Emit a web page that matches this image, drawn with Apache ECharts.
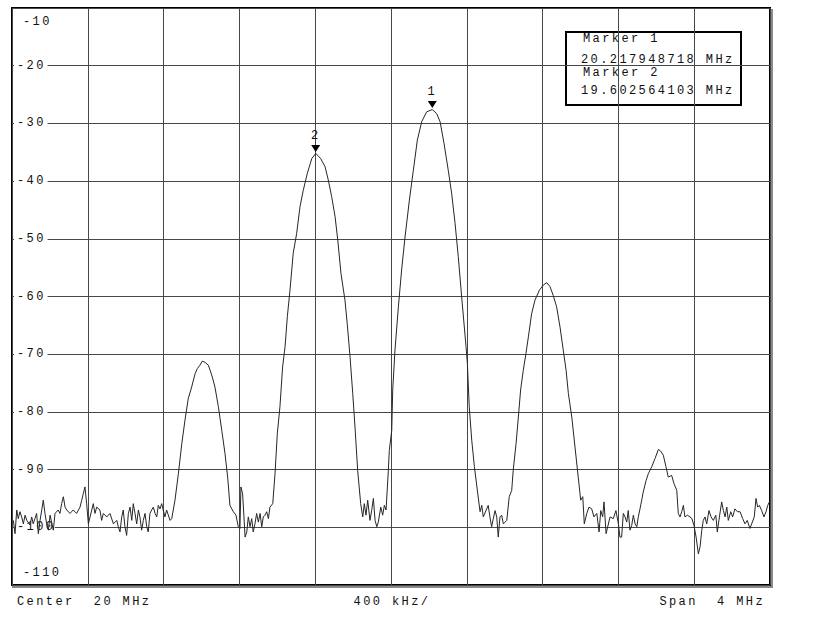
<!DOCTYPE html>
<html><head><meta charset="utf-8">
<script src="https://cdn.jsdelivr.net/npm/echarts@6.0.0/dist/echarts.min.js"></script>
<style>
html,body{margin:0;padding:0;background:#fff;}
#main{width:830px;height:619px;}
#main text{letter-spacing:2.4px;white-space:pre;}
</style></head><body><div id="main"></div>
<script>
const freqMHz = [
18.007,18.016,18.025,18.033,18.042,18.051,18.060,18.069,18.078,18.095,18.104,18.112,18.121,18.130,18.139,18.148,18.157,18.165,18.174,18.183,18.192,18.201,18.218,18.227,18.244,18.253,18.262,18.271,18.280,18.289,18.306,18.323,18.341,18.359,18.368,18.376,18.385,18.394,18.403,18.412,18.421,18.429,18.438,18.447,18.464,18.473,18.482,18.500,18.517,18.535,18.553,18.561,18.570,18.579,18.587,18.596,18.605,18.614,18.623,18.632,18.640,18.649,18.658,18.667,18.675,18.684,18.693,18.702,18.711,18.719,18.728,18.737,18.746,18.755,18.764,18.772,18.781,18.790,18.798,18.807,18.816,18.834,18.843,
18.860,18.878,18.896,18.913,18.930,18.948,18.966,18.978,18.992,19.004,19.018,19.036,19.054,19.071,19.089,19.107,19.124,19.138,19.150,19.168,19.182,19.194,19.203,19.208,19.217,19.224,
19.230,19.239,19.247,19.256,19.265,19.273,19.282,19.291,19.300,19.309,19.318,19.326,19.335,19.344,19.353,19.361,19.376,19.388,19.400,19.414,19.428,19.441,19.453,19.467,19.484,19.502,19.520,19.537,19.558,19.582,19.603,19.629,19.652,19.669,19.687,19.705,19.719,19.736,19.757,19.769,19.784,19.798,19.810,19.824,19.840,19.851,19.859,19.868,19.877,19.889,19.898,19.907,19.916,19.925,19.933,19.946,19.956,19.965,19.974,
19.986,19.991,20.004,20.009,20.021,20.039,20.056,20.074,20.097,20.118,20.139,20.162,20.188,20.218,20.241,20.259,20.280,20.302,20.320,20.338,20.355,20.373,20.396,20.403,20.413,20.426,20.440,20.458,20.470,20.479,20.487,
20.513,20.522,20.531,20.540,20.549,20.558,20.566,20.575,20.584,20.593,20.602,20.611,20.624,20.637,20.645,20.660,20.672,20.684,20.698,20.712,20.725,20.742,20.760,20.783,20.804,20.822,20.839,20.856,20.874,20.892,20.909,20.924,20.936,20.954,20.971,20.988,21.001,21.012,21.020,21.033,21.045,21.059,21.071,21.086,21.098,21.107,21.117,21.124,21.135,
21.156,21.173,21.187,21.200,21.208,21.217,21.226,21.235,21.244,21.252,21.261,21.270,21.279,21.288,21.297,21.305,21.314,21.323,21.331,21.346,21.358,21.376,21.393,21.411,21.423,21.437,21.451,21.463,21.481,21.493,21.508,21.516,21.525,21.534,21.543,21.551,21.564,21.578,21.588,21.599,21.610,21.622,21.631,21.640,21.648,21.657,21.666,21.678,21.689,21.701,21.714,21.722,21.733,21.745,21.754,21.763,21.772,21.780,21.793,21.803,21.815,21.828,21.842,21.856,21.868,21.880,21.894,21.907,21.917,21.926,21.935,21.944,21.956,21.968,21.979,21.988,21.997
];
const levelDb = [
-98.8,-101.1,-97.0,-98.5,-97.3,-98.2,-99.4,-97.9,-98.8,-99.6,-98.2,-99.4,-98.5,-97.6,-101.1,-98.8,-97.0,-95.3,-97.6,-99.4,-100.5,-97.9,-100.5,-97.6,-97.0,-97.6,-95.9,-94.7,-96.5,-97.0,-97.6,-97.0,-97.6,-96.5,-95.3,-94.2,-93.0,-95.9,-99.4,-98.2,-97.0,-95.9,-97.6,-96.5,-97.0,-98.8,-97.6,-98.2,-97.6,-99.4,-98.8,-99.9,-100.8,-98.2,-97.0,-99.9,-101.4,-97.6,-96.5,-98.8,-95.9,-97.6,-99.4,-97.0,-98.2,-100.5,-98.8,-97.6,-99.9,-100.8,-97.6,-97.0,-96.5,-97.6,-98.2,-96.2,-96.8,-95.9,-97.0,-98.2,-97.0,-98.8,-98.5,
-95.3,-90.7,-85.5,-81.4,-77.7,-75.7,-73.4,-72.5,-71.9,-71.2,-71.4,-71.9,-73.6,-75.7,-79.1,-83.2,-87.2,-91.3,-96.2,-97.3,-97.9,-99.9,-100.2,-93.0,-94.2,-98.2,
-101.7,-100.8,-98.2,-99.9,-98.5,-100.8,-99.4,-97.6,-99.1,-97.6,-99.9,-98.2,-97.9,-97.3,-98.5,-96.5,-95.9,-90.7,-83.8,-79.1,-72.2,-68.7,-63.5,-58.9,-52.5,-49.1,-44.4,-41.6,-38.7,-36.1,-35.2,-36.1,-37.5,-39.8,-42.7,-46.2,-50.2,-56.0,-60.6,-64.7,-70.5,-76.8,-82.6,-90.1,-95.9,-98.2,-95.9,-97.9,-95.3,-98.8,-97.1,-95.0,-98.8,-99.9,-99.1,-96.5,-97.9,-96.2,-97.0,
-90.1,-86.7,-83.2,-76.2,-69.3,-61.8,-55.4,-49.7,-43.3,-38.1,-32.9,-29.7,-28.0,-27.6,-28.3,-29.7,-33.5,-38.1,-42.1,-47.3,-53.1,-60.1,-68.7,-71.6,-79.1,-84.9,-89.5,-94.2,-97.3,-96.2,-98.2,
-96.2,-98.2,-99.9,-98.5,-97.1,-98.2,-101.7,-98.2,-97.9,-99.4,-99.1,-98.8,-94.7,-93.6,-90.1,-85.5,-80.9,-76.2,-72.8,-69.9,-67.0,-63.0,-60.6,-58.9,-58.0,-57.6,-58.3,-59.8,-61.8,-65.3,-69.3,-72.8,-76.8,-80.9,-86.1,-91.3,-95.3,-94.7,-99.4,-97.6,-96.5,-96.8,-98.2,-97.6,-100.8,-97.1,-98.2,-95.6,-101.1,
-98.2,-98.5,-97.1,-99.4,-101.7,-101.7,-97.6,-98.2,-99.1,-97.1,-100.5,-99.7,-97.9,-99.4,-99.9,-98.2,-96.8,-95.3,-93.9,-91.9,-90.7,-89.5,-88.1,-86.5,-86.8,-87.5,-89.5,-91.3,-91.0,-92.4,-93.6,-97.6,-98.2,-97.3,-96.2,-98.2,-97.9,-98.2,-98.5,-99.7,-101.7,-104.6,-103.4,-100.5,-98.8,-98.2,-99.4,-97.1,-98.2,-98.8,-97.9,-100.8,-98.2,-95.6,-97.1,-98.2,-96.5,-98.8,-97.3,-98.2,-96.8,-97.3,-97.3,-98.5,-99.4,-98.8,-100.2,-99.1,-98.2,-95.0,-96.5,-96.2,-97.1,-98.2,-97.3,-96.2,-95.6
];
const yMin = -110, yMax = -10, yStep = 10;
const xMin = 18, xMax = 22, xStep = 0.4;
const markerNames = ['1', '2'];
const markerFreqs = [20.217948718, 19.602564103];
const markerLevels = [-27.6, -35.2];
const footerLeft = 'Center  20 MHz';
const footerMid = '400 kHz/';
const footerRight = 'Span  4 MHz';

const FONT = '"Liberation Mono", "DejaVu Sans Mono", monospace';
const trace = freqMHz.map((f, i) => [f, levelDb[i]]);

const chart = echarts.init(document.getElementById('main'), null, {renderer: 'svg'});
const boxLines = [];
markerNames.forEach((n, i) => {
  boxLines.push('Marker ' + n);
  boxLines.push(markerFreqs[i].toFixed(9) + ' MHz');
});
const boxY = [39, 60, 73, 91];

chart.setOption({
  animation: false,
  backgroundColor: '#fff',
  grid: {
    left: 12, top: 8, width: 758, height: 577,
    show: true, borderColor: '#000', borderWidth: 2, backgroundColor: '#fff',
    outerBoundsMode: 'none'
  },
  xAxis: {
    type: 'value', min: xMin, max: xMax, interval: xStep,
    axisLine: {show: false}, axisTick: {show: false}, axisLabel: {show: false},
    splitLine: {show: true, lineStyle: {color: '#474747', width: 1}}
  },
  yAxis: {
    type: 'value', min: yMin, max: yMax, interval: yStep,
    axisLine: {show: false}, axisTick: {show: false},
    splitLine: {show: true, lineStyle: {color: '#474747', width: 1}},
    axisLabel: {
      inside: true, margin: 2,
      formatter: function (v) {
        const s = String(Math.round(v));
        if (v >= yMax) return '{t|' + s + '}';
        if (v <= yMin) return '{b|' + s + '}';
        return '{m|' + s + '}';
      },
      rich: {
        m: {fontFamily: FONT, fontSize: 12, color: '#111', backgroundColor: '#fff', padding: [1, 9, 1, 3]},
        t: {fontFamily: FONT, fontSize: 12, color: '#111', padding: [28, 0, 0, 9]},
        b: {fontFamily: FONT, fontSize: 12, color: '#111', padding: [0, 0, 25, 9]}
      }
    }
  },
  series: [{
    type: 'line', data: trace, showSymbol: false, z: 5,
    lineStyle: {color: '#262626', width: 1},
    markPoint: {
      symbol: 'triangle', symbolRotate: 180, symbolSize: [9, 7], symbolOffset: [0, -5],
      itemStyle: {color: '#000'},
      label: {show: true, position: 'top', distance: 3, formatter: '{b}', color: '#111', fontFamily: FONT, fontSize: 12},
      data: markerNames.map((n, i) => ({name: n, coord: [markerFreqs[i], markerLevels[i]]}))
    }
  }],
  graphic: [
    {type: 'line', z: 90, shape: {x1: 772, y1: 9, x2: 772, y2: 587}, style: {stroke: '#8a8a8a', lineWidth: 2}},
    {type: 'line', z: 90, shape: {x1: 12, y1: 587, x2: 773, y2: 587}, style: {stroke: '#8a8a8a', lineWidth: 2}},
    {type: 'group', z: 100, children: [
      {type: 'rect', shape: {x: 566, y: 32, width: 175, height: 73},
       style: {fill: '#fff', stroke: '#000', lineWidth: 2}},
    ].concat(boxLines.map((t, i) => ({
      type: 'text', x: i % 2 === 0 ? 583 : 581, y: boxY[i],
      style: {text: t, font: '12px ' + FONT, fill: '#111', verticalAlign: 'middle', textAlign: 'left'}
    })))},
    {type: 'text', x: 17, y: 602, z: 100, style: {text: footerLeft, font: '12px ' + FONT, fill: '#111', verticalAlign: 'middle', textAlign: 'left'}},
    {type: 'text', x: 392, y: 602, z: 100, style: {text: footerMid, font: '12px ' + FONT, fill: '#111', verticalAlign: 'middle', textAlign: 'center'}},
    {type: 'text', x: 765, y: 602, z: 100, style: {text: footerRight, font: '12px ' + FONT, fill: '#111', verticalAlign: 'middle', textAlign: 'right'}}
  ]
});
</script>
</body></html>
